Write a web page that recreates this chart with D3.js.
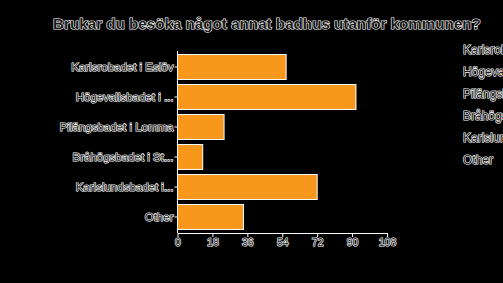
<!DOCTYPE html>
<html>
<head>
<meta charset="utf-8">
<script src="https://cdn.jsdelivr.net/npm/d3@7"></script>
<style>
  html, body { margin: 0; padding: 0; background: #000; overflow: hidden; }
  text { font-family: "Liberation Sans", Arial, sans-serif; fill: #1a1a1a; stroke: #fff; stroke-width: 1.2px; paint-order: stroke; }
</style>
</head>
<body>
<div id="chart"></div>
<script>
var title = "Brukar du besöka något annat badhus utanför kommunen?";
var categories = ["Karlsrobadet i Eslöv", "Högevallsbadet i Lund", "Pilängsbadet i Lomma",
                  "Bråhögsbadet i Staffanstorp", "Karlslundsbadet i Landskrona", "Other"];
var shortLabels = ["Karlsrobadet i Eslöv", "Högevallsbadet i ...", "Pilängsbadet i Lomma",
                   "Bråhögsbadet i St...", "Karlslundsbadet i...", "Other"];
var counts = [56, 92, 24, 13, 72, 34];
var tickValues = [0, 18, 36, 54, 72, 90, 108];

var width = 503, height = 283;

var svg = d3.select("#chart").append("svg")
    .attr("width", width)
    .attr("height", height);

svg.append("rect").attr("width", width).attr("height", height).attr("fill", "#000");

var x = d3.scaleLinear().domain([0, 108]).range([177.5, 387]);
var y = d3.scaleBand()
    .domain(d3.range(categories.length))
    .range([52, 232])
    .paddingInner(0.17)
    .paddingOuter(0.085);

// title
svg.append("text")
    .attr("x", 267)
    .attr("y", 29)
    .attr("text-anchor", "middle")
    .style("font-size", "15.2px")
    .style("font-weight", "bold")
    .text(title);

// bars
svg.append("g").selectAll("rect")
    .data(counts)
    .enter().append("rect")
    .attr("x", x(0))
    .attr("y", function(d, i) { return y(i); })
    .attr("width", function(d) { return x(d) - x(0); })
    .attr("height", y.bandwidth())
    .attr("fill", "#f7981d")
    .attr("stroke", "#fff")
    .attr("stroke-width", 1);

// x axis
var xAxis = svg.append("g")
    .attr("transform", "translate(0," + 233 + ")")
    .call(d3.axisBottom(x).tickValues(tickValues).tickSize(4).tickSizeOuter(0));
xAxis.select(".domain").attr("stroke", "#fff");
xAxis.selectAll(".tick line").attr("stroke", "#fff");
xAxis.selectAll(".tick text")
    .attr("fill", null)
    .attr("dy", "0.6em")
    .style("font-size", "10.5px");

// y axis
var yAxis = svg.append("g")
    .attr("transform", "translate(" + x(0) + ",0)")
    .call(d3.axisLeft(y).tickFormat(function(i) { return shortLabels[i]; }).tickSize(3).tickSizeOuter(0));
yAxis.select(".domain").attr("stroke", "#fff").attr("d", "M0,51V233");
yAxis.selectAll(".tick line").attr("stroke", "#fff");
yAxis.selectAll(".tick text")
    .attr("fill", null)
    .attr("x", -4)
    .style("font-size", "11.5px");

// legend (text only, runs off the right edge like the original)
svg.append("g").selectAll("text")
    .data(categories)
    .enter().append("text")
    .attr("x", 463)
    .attr("y", function(d, i) { return 54 + i * 22; })
    .style("font-size", "12px")
    .text(function(d) { return d; });
</script>
</body>
</html>
